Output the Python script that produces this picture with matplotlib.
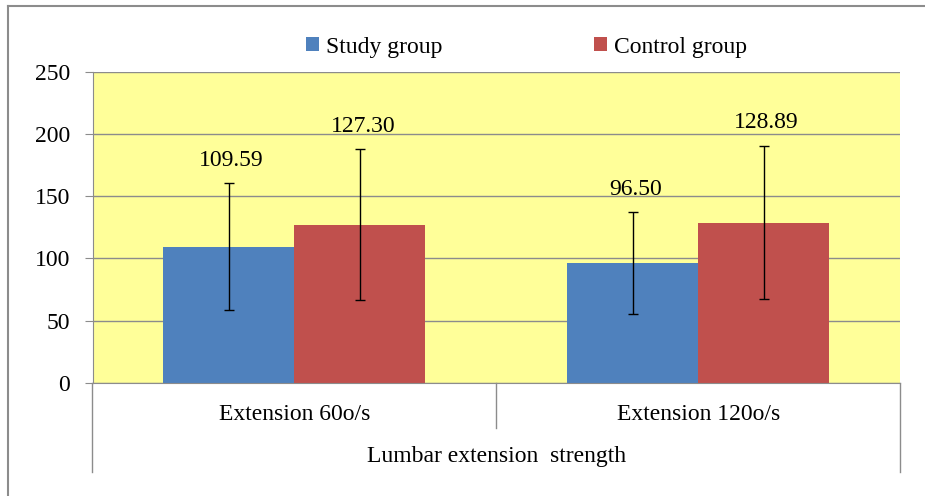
import numpy as np
import matplotlib.pyplot as plt
from matplotlib.patches import Patch
from matplotlib.lines import Line2D

categories = ['Extension 60o/s', 'Extension 120o/s']
group_title = 'Lumbar extension  strength'
series_names = ['Study group', 'Control group']
study_means = [109.59, 96.50]
control_means = [127.30, 128.89]
study_sd = [51.0, 40.7]
control_sd = [60.3, 61.6]
yticks = [0, 50, 100, 150, 200, 250]

plt.rcParams['font.family'] = ['Liberation Serif', 'DejaVu Serif']
plt.rcParams['font.size'] = 17

colors = ['#4F81BD', '#C0504D']
grid_color = '#8C8C8C'

fig = plt.figure(figsize=(9.25, 4.96), dpi=100)
ax = fig.add_axes([0.1, 0.2278, 0.8733, 0.6276])
ax.set_facecolor('#FFFF99')

x = np.arange(len(categories))
w = 0.3244
means = [study_means, control_means]
sds = [study_sd, control_sd]
for i, (m, s) in enumerate(zip(means, sds)):
    xs = x + (i - 0.5) * w
    ax.bar(xs, m, width=w, color=colors[i], zorder=2)
    ax.errorbar(xs, m, yerr=s, fmt='none', ecolor='black', elinewidth=1,
                capsize=3.8, capthick=1, zorder=3)
    for xi, mi, si in zip(xs, m, s):
        ax.annotate(f'{mi:.2f}', (xi, mi + si), xytext=(2, 16.5),
                    textcoords='offset points', ha='center', va='center')

ax.set_xlim(-0.5, len(categories) - 0.5)
ax.set_ylim(0, 250)
ax.set_yticks(yticks)
ax.yaxis.grid(True, color=grid_color, linewidth=1, zorder=0)
ax.set_axisbelow(True)
ax.set_xticks([])
for side in ['top', 'right']:
    ax.spines[side].set_visible(False)
for side in ['left', 'bottom']:
    ax.spines[side].set_color(grid_color)
ax.tick_params(axis='y', length=6, color=grid_color, pad=10)

# category axis: separators and two-level labels
trans = ax.get_xaxis_transform()
bounds = np.arange(len(categories) + 1) - 0.5
for b in bounds:
    outer = b in (bounds[0], bounds[-1])
    ax.plot([b, b], [0, -0.285 if outer else -0.1455], transform=trans,
            color=grid_color, linewidth=1, clip_on=False)
for xi, lab in zip(x, categories):
    ax.text(xi, -0.1, lab, transform=trans, ha='center', va='center')
ax.text(np.mean(x), -0.236, group_title, transform=trans, ha='center', va='center')

handles = [Patch(facecolor=c, edgecolor='none') for c in colors]
fig.legend(handles, series_names, loc='center', bbox_to_anchor=(0.569, 0.905),
           ncol=2, frameon=False, handlelength=0.55, handleheight=0.55,
           handletextpad=0.3, columnspacing=6.4)

# outer chart border (top and left visible)
bc = '#8C8C8C'
fig.add_artist(Line2D([8 / 925, 8 / 925], [0, 1 - 6 / 496], color=bc, linewidth=1.5))
fig.add_artist(Line2D([8 / 925, 1], [1 - 6 / 496, 1 - 6 / 496], color=bc, linewidth=1.5))

fig.savefig('out.png', dpi=100)
